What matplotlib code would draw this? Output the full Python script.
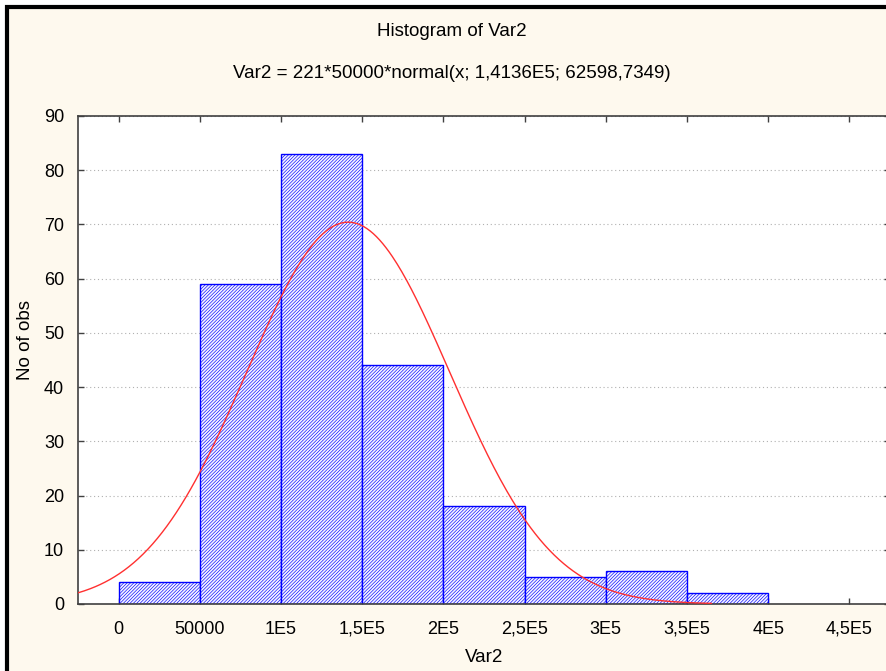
import numpy as np
import matplotlib
matplotlib.use("Agg")
import matplotlib.pyplot as plt
from matplotlib.patches import Rectangle

# Data
bin_edges = [0, 50000, 100000, 150000, 200000, 250000, 300000, 350000, 400000]
counts = [4, 59, 83, 44, 18, 5, 6, 2]
n_obs = 221
bin_width = 50000
mean = 141360.0
sd = 62598.7349
curve_range = [-25000, 365000]
xticks = [0, 50000, 100000, 150000, 200000, 250000, 300000, 350000, 400000, 450000]
xticklabels = ["0", "50000", "1E5", "1,5E5", "2E5", "2,5E5", "3E5", "3,5E5", "4E5", "4,5E5"]
yticks = [0, 10, 20, 30, 40, 50, 60, 70, 80, 90]

plt.rcParams['font.family'] = ['Liberation Sans', 'DejaVu Sans']
plt.rcParams['hatch.linewidth'] = 0.45
plt.rcParams['hatch.color'] = '#5050ff'

W, H = 886, 671
fig = plt.figure(figsize=(W / 100, H / 100), dpi=100)
fig.patch.set_facecolor('white')

# cream panel with black border (left/top visible)
panel = Rectangle((7 / W, -0.05), 1.1, 1 - 7 / H + 0.05, transform=fig.transFigure,
                  facecolor='#fef9ee', edgecolor='black', linewidth=3, zorder=-10)
fig.add_artist(panel)

ax_left, ax_right = 78 / W, 890 / W
ax_bottom, ax_top = (H - 604) / H, (H - 116) / H
ax = fig.add_axes([ax_left, ax_bottom, ax_right - ax_left, ax_top - ax_bottom])
ax.set_zorder(1)
ax.set_facecolor('white')

lefts = bin_edges[:-1]
ax.bar(lefts, counts, width=bin_width, align='edge', facecolor='#f4f4ff',
       edgecolor='#0000ff', linewidth=1.0, hatch='/' * 10, zorder=2)

xs = np.linspace(curve_range[0], curve_range[1], 400)
ys = n_obs * bin_width * np.exp(-0.5 * ((xs - mean) / sd) ** 2) / (sd * np.sqrt(2 * np.pi))
ax.plot(xs, ys, color='#ff3030', linewidth=1.0, zorder=3)

ax.set_xlim(-25000, 475000)
ax.set_ylim(0, 90)
ax.set_xticks(xticks)
ax.set_xticklabels(xticklabels)
ax.set_yticks(yticks)
ax.tick_params(axis='both', direction='in', length=4, width=1, color='#404040',
               labelsize=13, top=True, right=True, pad=10)
ax.tick_params(axis='x', pad=12)
ax.yaxis.grid(True, linestyle=(0, (1, 2.5)), color='#b0b0b0', linewidth=0.8, zorder=1)
ax.set_axisbelow(True)
for s in ax.spines.values():
    s.set_color('#404040')
    s.set_linewidth(1.2)

fig.text(452 / W, 1 - 31 / H, "Histogram of Var2", ha='center', va='center', fontsize=13.5)
fig.text(452 / W, 1 - 74 / H, "Var2 = 221*50000*normal(x; 1,4136E5; 62598,7349)",
         ha='center', va='center', fontsize=13.5)
fig.text(25 / W, 1 - 340 / H, "No of obs", rotation=90, ha='center', va='center', fontsize=13.5)
fig.text(484 / W, 1 - 657 / H, "Var2", ha='center', va='center', fontsize=13.5)

fig.savefig("out.png", dpi=100)
